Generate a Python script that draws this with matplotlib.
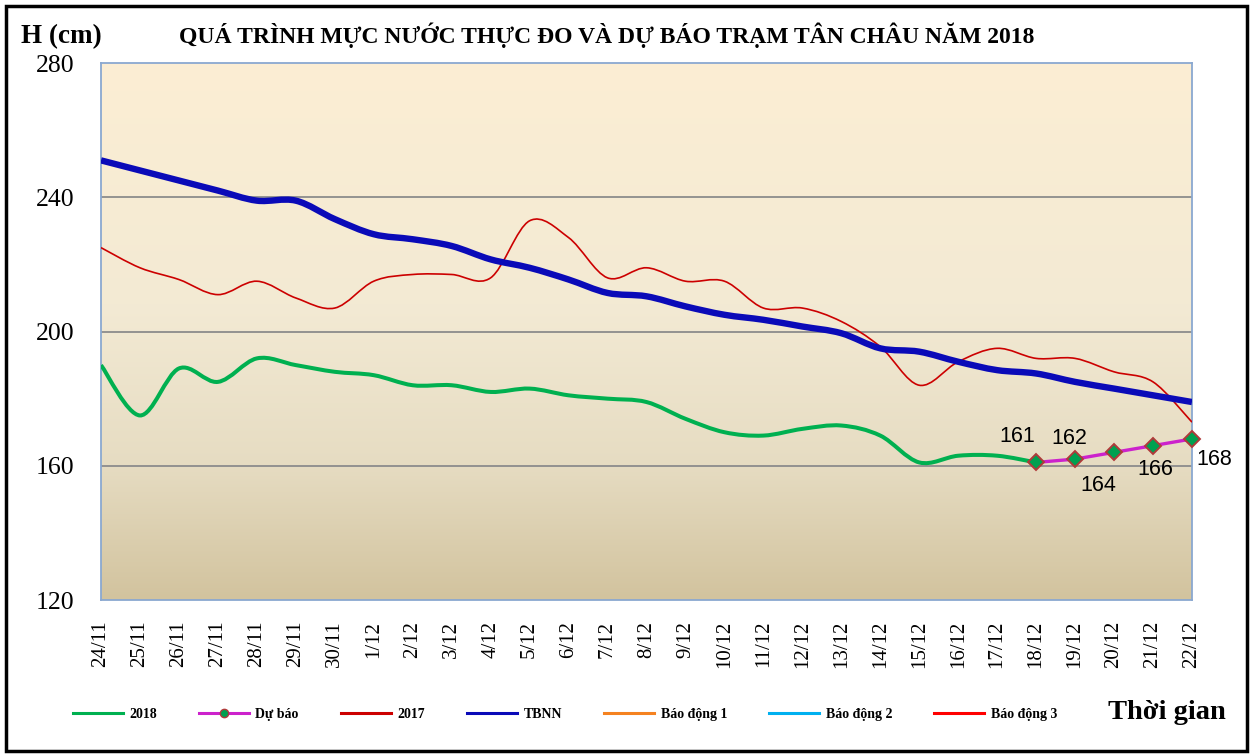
import numpy as np
import matplotlib.pyplot as plt
from matplotlib.path import Path
from matplotlib.patches import PathPatch, Rectangle
from matplotlib.lines import Line2D
from matplotlib.colors import LinearSegmentedColormap

# Du lieu
ngay = ["24/11", "25/11", "26/11", "27/11", "28/11", "29/11", "30/11",
        "1/12", "2/12", "3/12", "4/12", "5/12", "6/12", "7/12", "8/12",
        "9/12", "10/12", "11/12", "12/12", "13/12", "14/12", "15/12",
        "16/12", "17/12", "18/12", "19/12", "20/12", "21/12", "22/12"]

h2018 = [190, 175, 189, 185, 192, 190, 188, 187, 184, 184, 182, 183, 181,
         180, 179, 174, 170, 169, 171, 172, 169, 161, 163, 163, 161]
du_bao = [161, 162, 164, 166, 168]          # 18/12 -> 22/12
h2017 = [225, 219, 215.5, 211, 215, 210, 207, 215, 217, 217, 216, 233, 228,
         216, 219, 215, 215, 207, 207, 203, 195.5, 184, 191, 195, 192, 192,
         188, 185, 173]
tbnn = [251, 248, 245, 242, 239, 239, 233.5, 229, 227.5, 225.5, 221.5, 219,
        215.5, 211.5, 210.5, 207.5, 205, 203.5, 201.5, 199.5, 195, 194, 191,
        188.5, 187.5, 185, 183, 181, 179]
bao_dong = {"Báo động 1": 350, "Báo động 2": 400, "Báo động 3": 450}


def duong_cong(ax, x, y, **kw):
    # duong tron kieu Excel (Catmull-Rom -> Bezier)
    p = np.column_stack([x, y]).astype(float)
    verts = [p[0]]
    codes = [Path.MOVETO]
    n = len(p)
    for i in range(n - 1):
        p0 = p[i - 1] if i > 0 else p[i]
        p3 = p[i + 2] if i + 2 < n else p[i + 1]
        c1 = p[i] + (p[i + 1] - p0) / 6
        c2 = p[i + 1] - (p3 - p[i]) / 6
        verts += [c1, c2, p[i + 1]]
        codes += [Path.CURVE4] * 3
    ax.add_patch(PathPatch(Path(verts, codes), fill=False, **kw))


fig = plt.figure(figsize=(12.53, 7.56), dpi=100)
ax = fig.add_axes([0.0806, 0.2063, 0.8707, 0.7103])

x = np.arange(len(ngay))

# nen gradient
cmap = LinearSegmentedColormap.from_list(
    "nen", [(0, "#D2C39E"), (0.25, "#E6DCC2"), (0.55, "#F3EAD4"), (1, "#FCEED3")])
ax.imshow(np.linspace(0, 1, 256).reshape(-1, 1), cmap=cmap, origin="lower",
          extent=[0, 28, 120, 280], aspect="auto", zorder=0)

for g in [160, 200, 240]:
    ax.axhline(g, color="#8C8C8C", lw=1.3, zorder=1)

for (ten, muc), mau in zip(bao_dong.items(), ["#F58220", "#00B0F0", "#FF0000"]):
    ax.axhline(muc, color=mau, lw=2)

duong_cong(ax, x[:len(h2018)], h2018, edgecolor="#00B050", lw=2.9, zorder=3)
duong_cong(ax, x, h2017, edgecolor="#CC0000", lw=1.2, zorder=4)
duong_cong(ax, x, tbnn, edgecolor="#0A0AB8", lw=4.6, zorder=5)

xd = x[len(h2018) - 1:]
ax.plot(xd, du_bao, color="#CC22CC", lw=2.4, marker="D", ms=8.5,
        mfc="#00A050", mec="#B03A3A", mew=1.4, zorder=6, clip_on=False)

lech = [(-19, 26), (-6, 21), (-16, -33), (2, -24), (22, -21)]
for xi, yi, (dx, dy) in zip(xd, du_bao, lech):
    ax.annotate(str(yi), (xi, yi), xytext=(dx, dy), textcoords="offset pixels",
                ha="center", va="center", fontsize=15.5,
                family="Liberation Sans", zorder=7)

ax.set_xlim(0, 28)
ax.set_ylim(120, 280)
ax.set_yticks([120, 160, 200, 240, 280])
ax.set_xticks(x)
ax.set_xticklabels(ngay, rotation=90, family="Liberation Serif", fontsize=15)
ax.tick_params(axis="x", length=0, pad=15)
ax.tick_params(axis="y", length=0, pad=19, labelsize=18.5)
for t in ax.get_yticklabels():
    t.set_family("Liberation Serif")
for s in ax.spines.values():
    s.set_color("#8AA8D0")
    s.set_linewidth(1.3)

fig.text(0.017, 0.952, "H (cm)", family="Liberation Serif", fontweight="bold",
         fontsize=19.5, va="center")
fig.text(0.4845, 0.953, "QUÁ TRÌNH MỰC NƯỚC THỰC ĐO VÀ DỰ BÁO TRẠM TÂN CHÂU NĂM 2018",
         family="Liberation Serif", fontweight="bold", fontsize=17,
         ha="center", va="center")
fig.text(0.884, 0.058, "Thời gian", family="Liberation Serif",
         fontweight="bold", fontsize=20.5, va="center")

handles = [
    Line2D([], [], color="#00B050", lw=2.2),
    Line2D([], [], color="#CC22CC", lw=2.2, marker="o", ms=6,
           mfc="#00A050", mec="#B03A3A"),
    Line2D([], [], color="#CC0000", lw=2.2),
    Line2D([], [], color="#0A0AB8", lw=2.2),
    Line2D([], [], color="#F58220", lw=2.2),
    Line2D([], [], color="#00B0F0", lw=2.2),
    Line2D([], [], color="#FF0000", lw=2.2),
]
labels = ["2018", "Dự báo", "2017", "TBNN"] + list(bao_dong.keys())
fig.legend(handles, labels, loc="center left", bbox_to_anchor=(0.048, 0.055),
           ncol=7, frameon=False, handlelength=3.6, columnspacing=3.05,
           handletextpad=0.45,
           prop={"family": "Liberation Serif", "weight": "bold", "size": 10})

fig.patches.append(Rectangle((0.005, 0.007), 0.99, 0.985, transform=fig.transFigure,
                             fill=False, edgecolor="black", lw=2.5))

fig.savefig("out.png", dpi=100)
